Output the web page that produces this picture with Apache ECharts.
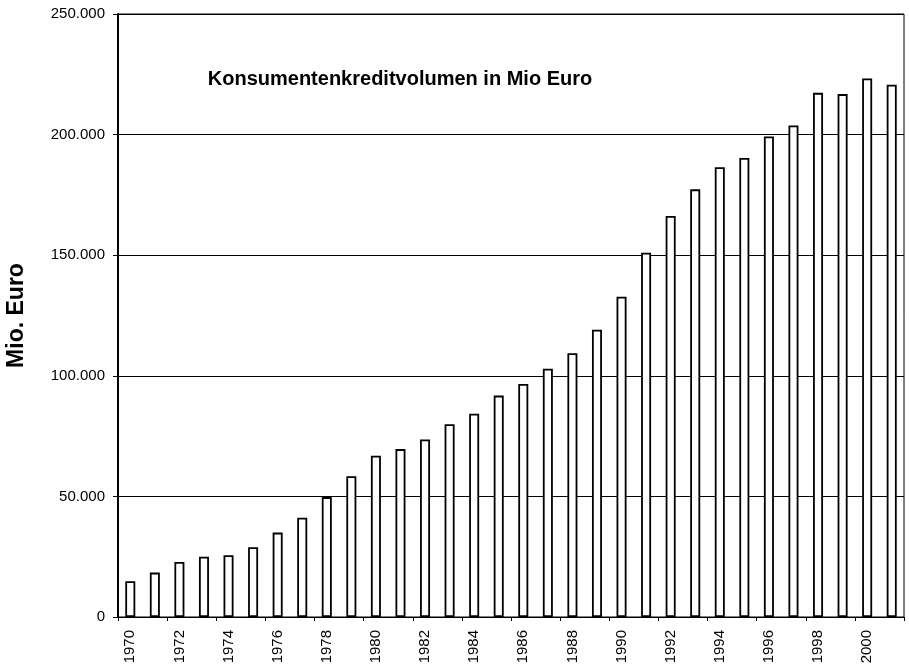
<!DOCTYPE html>
<html>
<head>
<meta charset="utf-8">
<script src="https://cdn.jsdelivr.net/npm/echarts@6/dist/echarts.min.js"></script>
<style>html,body{margin:0;padding:0;background:#fff}#c{width:909px;height:671px}</style>
</head>
<body>
<div id="c"></div>
<script>
var years = ['1970','1971','1972','1973','1974','1975','1976','1977','1978','1979','1980','1981','1982','1983','1984','1985','1986','1987','1988','1989','1990','1991','1992','1993','1994','1995','1996','1997','1998','1999','2000','2001'];
var volumes = [14800,18400,22800,25000,25600,28900,35000,41200,49700,58400,66900,69600,73600,79900,84300,91800,96600,102900,109400,119100,132800,151000,166300,177300,186500,190300,199200,203800,217300,216800,223300,220700];
var chartTitle = 'Konsumentenkreditvolumen in Mio Euro';
var yName = 'Mio. Euro';

function fmt(v){ return String(v).replace(/\B(?=(\d{3})+(?!\d))/g, '.'); }

var chart = echarts.init(document.getElementById('c'), null, {renderer:'canvas'});
chart.setOption({
  animation:false,
  backgroundColor:'#fff',
  title:{
    text: chartTitle,
    left: 395, top: 64, textAlign:'center',
    textStyle:{fontFamily:'Liberation Sans, Arial, sans-serif', fontWeight:'bold', fontSize:20, color:'#000'}
  },
  grid:{left:118, top:14, right:5, bottom:54, show:true, borderColor:'#000', borderWidth:1, containLabel:false, outerBoundsMode:'none'},
  xAxis:{
    type:'category', data: years,
    axisLine:{lineStyle:{color:'#000', width:1}},
    axisTick:{show:true, length:4, lineStyle:{color:'#000'}},
    axisLabel:{interval:1, rotate:90, margin:13, color:'#000', fontSize:15, fontFamily:'Liberation Sans, Arial, sans-serif'}
  },
  yAxis:{
    type:'value', min:0, max:250000, interval:50000,
    name: yName, nameLocation:'middle', nameRotate:90, nameGap:90,
    nameTextStyle:{fontFamily:'Liberation Sans, Arial, sans-serif', fontWeight:'bold', fontSize:23, color:'#000'},
    axisLine:{show:true, lineStyle:{color:'#000', width:2}},
    axisTick:{show:true, length:5, lineStyle:{color:'#000'}},
    axisLabel:{margin:13, color:'#000', fontSize:15, fontFamily:'Liberation Sans, Arial, sans-serif', formatter: fmt},
    splitLine:{show:true, lineStyle:{color:'#000', width:1}}
  },
  series:[{
    type:'bar', data: volumes, barWidth:10,
    itemStyle:{color:'#fff', borderColor:'#000', borderWidth:1.8}
  }]
});
</script>
</body>
</html>
